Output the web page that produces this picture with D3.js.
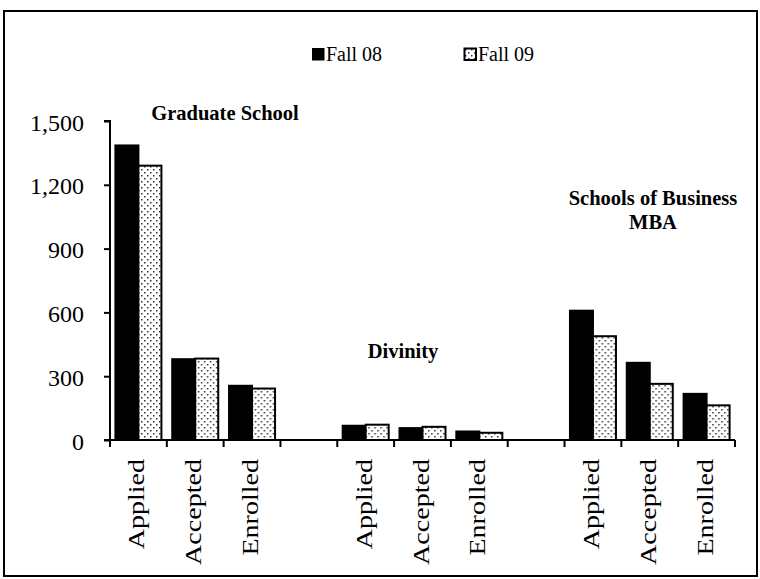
<!DOCTYPE html>
<html>
<head>
<meta charset="utf-8">
<script src="https://cdn.jsdelivr.net/npm/d3@7"></script>
<style>
  html, body { margin: 0; padding: 0; background: #fff; }
  svg { display: block; }
  text { font-family: "Liberation Serif", "Times New Roman", serif; fill: #000; }
</style>
</head>
<body>
<svg id="chart" width="760" height="579"></svg>
<script>
// ---- data ----
const groups = ["Graduate School", "Divinity", "Schools of Business MBA"];
const metrics = ["Applied", "Accepted", "Enrolled"];
const seriesNames = ["Fall 08", "Fall 09"];
const fall08 = [1385, 380, 255,   67, 56, 40,   608, 363, 217];
const fall09 = [1290, 383, 242,   72, 62, 34,   488, 264, 163];
const yTicks = [0, 300, 600, 900, 1200, 1500];

// build category slots: 3 metrics per group, blank slot between groups
const slots = [];
groups.forEach((g, gi) => {
  metrics.forEach((m, mi) => {
    const k = gi * 3 + mi;
    slots.push({ id: "s" + slots.length, label: m, group: g, values: [fall08[k], fall09[k]] });
  });
  if (gi < groups.length - 1) slots.push({ id: "s" + slots.length, label: "", group: null, values: null });
});

const svg = d3.select("#chart");

// pattern for Fall 09
const defs = svg.append("defs");
const pat = defs.append("pattern").attr("id", "dots")
  .attr("patternUnits", "userSpaceOnUse").attr("width", 6).attr("height", 6);
pat.append("rect").attr("width", 6).attr("height", 6).attr("fill", "#fff");
pat.append("rect").attr("x", 1).attr("y", 1).attr("width", 1.5).attr("height", 1.5).attr("fill", "#333");
pat.append("rect").attr("x", 4).attr("y", 4).attr("width", 1.5).attr("height", 1.5).attr("fill", "#333");

// outer frame
svg.append("rect").attr("x", 4).attr("y", 11).attr("width", 753).attr("height", 565)
  .attr("fill", "none").attr("stroke", "#000").attr("stroke-width", 2);

const x = d3.scaleBand().domain(slots.map(s => s.id)).range([110, 735]).paddingInner(0).paddingOuter(0);
const xs = d3.scaleBand().domain(seriesNames).range([0, x.bandwidth()]).paddingInner(0).paddingOuter(0.235);
const y = d3.scaleLinear().domain([0, 1500]).range([440, 121]);
const fills = ["#000", "url(#dots)"];

// bars
const slotG = svg.append("g").selectAll("g").data(slots.filter(s => s.values)).join("g")
  .attr("transform", d => `translate(${x(d.id)},0)`);
slotG.selectAll("rect").data(d => d.values.map((v, i) => ({ v, i }))).join("rect")
  .attr("x", d => xs(seriesNames[d.i]))
  .attr("width", xs.bandwidth())
  .attr("y", d => y(d.v))
  .attr("height", d => y(0) - y(d.v))
  .attr("fill", d => fills[d.i])
  .attr("stroke", "#000").attr("stroke-width", 2);

// y axis
const yAxis = svg.append("g").attr("transform", "translate(110,0)")
  .call(d3.axisLeft(y).tickValues(yTicks).tickFormat(d3.format(",")).tickSize(6).tickPadding(20));
yAxis.select(".domain").attr("stroke-width", 2).attr("d", `M-6,${y(1500)}H0V${y(0)}H-6`);
yAxis.selectAll(".tick line").attr("stroke-width", 2);
yAxis.selectAll(".tick text").attr("font-size", 24).attr("font-family", "Liberation Serif").attr("dy", "0.38em");

// x axis
const xAxisG = svg.append("g").attr("transform", `translate(0,${y(0)})`);
xAxisG.append("line").attr("x1", 110).attr("x2", 735).attr("y1", 0).attr("y2", 0)
  .attr("stroke", "#000").attr("stroke-width", 2);
const bounds = slots.map(s => x(s.id)).concat([x(slots[slots.length - 1].id) + x.bandwidth()]);
xAxisG.selectAll("line.tk").data(bounds).join("line").attr("class", "tk")
  .attr("x1", d => d).attr("x2", d => d).attr("y1", 0).attr("y2", 7)
  .attr("stroke", "#000").attr("stroke-width", 2);
xAxisG.selectAll("text").data(slots.filter(s => s.label)).join("text")
  .attr("transform", d => `translate(${x(d.id) + x.bandwidth() / 2 + 6},19) rotate(-90) scale(1.22,1)`)
  .attr("text-anchor", "end").attr("font-size", 23).text(d => d.label);

// group titles
const titles = [
  { lines: ["Graduate School"], cx: 225, y: 120 },
  { lines: ["Divinity"], cx: 403, y: 358 },
  { lines: ["Schools of Business", "MBA"], cx: 653, y: 205 }
];
titles.forEach(t => {
  const tx = svg.append("text").attr("text-anchor", "middle").attr("font-size", 20.5).attr("font-weight", "bold");
  t.lines.forEach((l, i) => tx.append("tspan").attr("x", t.cx).attr("y", t.y + i * 24).text(l));
});

// legend
const legendX = [312, 464];
seriesNames.forEach((s, i) => {
  const g = svg.append("g").attr("transform", `translate(${legendX[i]},48)`);
  g.append("rect").attr("x", 0.5).attr("y", 0.5).attr("width", 11.5).attr("height", 11.5)
    .attr("fill", fills[i]).attr("stroke", "#000").attr("stroke-width", i === 0 ? 1 : 2);
  g.append("text").attr("x", 14).attr("y", 13).attr("font-size", 20).text(s);
});
</script>
</body>
</html>
